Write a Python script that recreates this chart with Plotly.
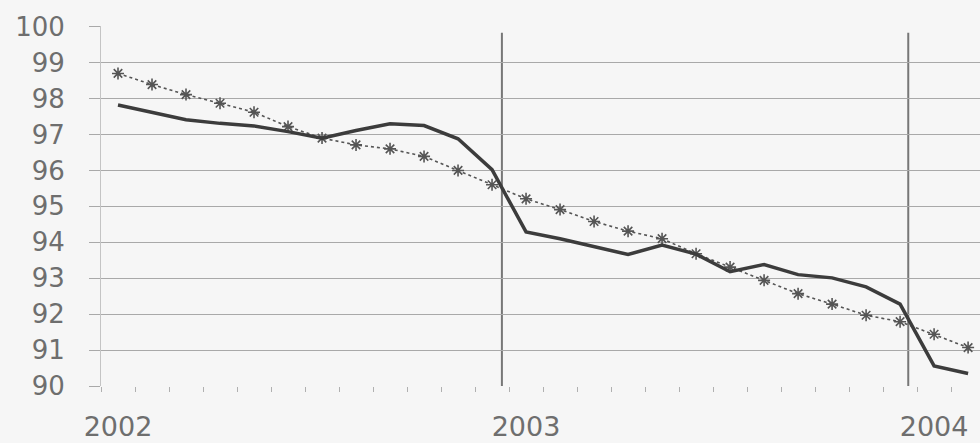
import plotly.graph_objects as go

# === Data (monthly index, Jan 2002 .. Feb 2004) ===
months = list(range(26))
actual = [97.82, 97.62, 97.41, 97.31, 97.24, 97.08, 96.90, 97.11, 97.30, 97.25,
          96.88, 96.02, 94.29, 94.10, 93.89, 93.66, 93.92, 93.67, 93.18, 93.38,
          93.10, 93.01, 92.76, 92.28, 90.56, 90.35]
trend = [98.70, 98.39, 98.11, 97.87, 97.62, 97.22, 96.90, 96.71, 96.60, 96.39,
         96.00, 95.60, 95.21, 94.91, 94.58, 94.31, 94.10, 93.68, 93.31, 92.94,
         92.57, 92.28, 91.97, 91.79, 91.44, 91.07]
year_labels = ["2002", "2003", "2004"]
year_label_pos = [0, 12, 24]
year_breaks = [11.29, 23.24]
y_ticks = list(range(90, 101))

text_color = "#6e6e6e"
grid_color = "#a9a9a9"
bg = "#f6f6f6"

fig = go.Figure()

fig.add_trace(go.Scatter(
    x=months, y=trend, mode="lines+markers",
    line=dict(color="#555555", width=1.6, dash="dot"),
    marker=dict(symbol="asterisk-open", size=10, color="#555555",
                line=dict(color="#555555", width=1.6)),
    showlegend=False,
))
fig.add_trace(go.Scatter(
    x=months, y=actual, mode="lines",
    line=dict(color="#3c3c3c", width=3.5),
    showlegend=False,
))

# === Year separators ===
for xb in year_breaks:
    fig.add_shape(type="line", xref="x", yref="y", x0=xb, x1=xb, y0=90, y1=99.83,
                  line=dict(color="#777777", width=2), layer="below")

fig.update_layout(
    width=980, height=443,
    margin=dict(l=101, r=0, t=26, b=57),
    paper_bgcolor=bg, plot_bgcolor=bg,
    font=dict(family="DejaVu Sans", size=26, color=text_color),
)

fig.update_xaxes(
    automargin=False,
    range=[-0.5, 25.35],
    tickmode="array", tickvals=year_label_pos, ticktext=year_labels,
    tickfont=dict(size=27),
    ticks="", ticklabelstandoff=22,
    showgrid=False, zeroline=False,
    showline=False,
    minor=dict(ticks="outside", ticklen=5, tickcolor="#b0b0b0", tickwidth=1,
               tick0=-0.5, dtick=1, showgrid=False),
)
fig.update_yaxes(
    automargin=False,
    range=[90, 100.02],
    tickmode="array", tickvals=y_ticks,
    ticks="outside", ticklen=11, tickcolor=grid_color,
    ticklabelstandoff=19,
    showgrid=True, gridcolor=grid_color, gridwidth=1,
    zeroline=False,
    showline=True, linecolor="#c4c4c4", linewidth=1,
)

# drop the default page margin so the figure sits at the window's corner
fig.write_html("out.html",
               config={"displayModeBar": False},
               post_script="document.body.style.margin='0';"
                           "document.body.style.overflow='hidden';"
                           "document.body.style.background='%s';" % bg)
